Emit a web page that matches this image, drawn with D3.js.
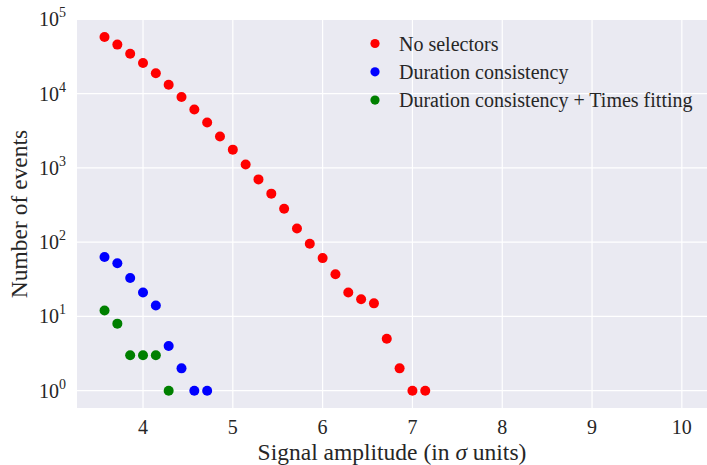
<!DOCTYPE html>
<html>
<head>
<meta charset="utf-8">
<script src="https://cdn.jsdelivr.net/npm/d3@7"></script>
<style>
  body { margin: 0; background: #fff; }
  svg text { font-family: "Palatino Linotype", Palatino, "Liberation Serif", serif; fill: #262626; }
</style>
</head>
<body>
<div id="chart"></div>
<script>
// bin centres are k/7 sigma
const xRed = [25, 26, 27, 28, 29, 30, 31, 32, 33, 34, 35, 36, 37, 38, 39, 40, 41, 42, 43, 44, 45, 46, 47, 48, 49, 50].map(k => k / 7);
const noSelectors = [58000, 45700, 34500, 25900, 18800, 13200, 9000, 6100, 4080, 2650, 1760, 1110, 700, 450, 282, 153, 95, 61, 37, 21, 17, 15, 5, 2, 1, 1];

const xBlue = [25, 26, 27, 28, 29, 30, 31, 32, 33].map(k => k / 7);
const durationConsistency = [63, 52, 33, 21, 14, 4, 2, 1, 1];

const xGreen = [25, 26, 27, 28, 29, 30].map(k => k / 7);
const durationTimes = [12, 8, 3, 3, 3, 1];

const seriesNames = ["No selectors", "Duration consistency", "Duration consistency + Times fitting"];
const seriesColors = ["#ff0000", "#0000ff", "#008000"];

const xTicks = [4, 5, 6, 7, 8, 9, 10];
const yTicks = [1, 10, 100, 1000, 10000, 100000];

const width = 707, height = 465;
const margin = { top: 20, right: 0, bottom: 57, left: 77 };

const svg = d3.select("#chart").append("svg")
  .attr("width", width)
  .attr("height", height);

const x = d3.scaleLinear()
  .domain([3.265, 10.28])
  .range([margin.left, width - margin.right]);

const y = d3.scaleLog()
  .domain([0.585, 98000])
  .range([height - margin.bottom, margin.top]);

// background
svg.append("rect")
  .attr("x", margin.left)
  .attr("y", margin.top)
  .attr("width", width - margin.left - margin.right)
  .attr("height", height - margin.top - margin.bottom)
  .attr("fill", "#eaeaf2");

// grid
svg.append("g").selectAll("line")
  .data(xTicks)
  .join("line")
  .attr("x1", d => x(d)).attr("x2", d => x(d))
  .attr("y1", margin.top).attr("y2", height - margin.bottom)
  .attr("stroke", "#fff").attr("stroke-width", 1.2);

svg.append("g").selectAll("line")
  .data(yTicks)
  .join("line")
  .attr("x1", margin.left).attr("x2", width - margin.right)
  .attr("y1", d => y(d)).attr("y2", d => y(d))
  .attr("stroke", "#fff").attr("stroke-width", 1.2);

// x tick labels
svg.append("g").selectAll("text")
  .data(xTicks)
  .join("text")
  .attr("x", d => x(d))
  .attr("y", 434)
  .attr("text-anchor", "middle")
  .attr("font-size", 20)
  .text(d => d);

// y tick labels: 10^n
const yl = svg.append("g").selectAll("text")
  .data(yTicks)
  .join("text")
  .attr("x", 66)
  .attr("y", d => y(d) + 7)
  .attr("text-anchor", "end")
  .attr("font-size", 20);
yl.append("tspan").text("10");
yl.append("tspan")
  .attr("dy", -9)
  .attr("font-size", 14)
  .text(d => Math.round(Math.log10(d)));

// axis titles
const xt = svg.append("text")
  .attr("x", (margin.left + width - margin.right) / 2)
  .attr("y", 460)
  .attr("text-anchor", "middle")
  .attr("font-size", 23.5);
xt.append("tspan").text("Signal amplitude (in ");
xt.append("tspan").attr("font-style", "italic").text("σ");
xt.append("tspan").text(" units)");

svg.append("text")
  .attr("transform", `translate(27,${(margin.top + height - margin.bottom) / 2}) rotate(-90)`)
  .attr("text-anchor", "middle")
  .attr("font-size", 23.5)
  .text("Number of events");

// points
const series = [
  { xs: xRed, ys: noSelectors },
  { xs: xBlue, ys: durationConsistency },
  { xs: xGreen, ys: durationTimes }
];
series.forEach((s, i) => {
  svg.append("g").selectAll("circle")
    .data(s.ys)
    .join("circle")
    .attr("cx", (d, j) => x(s.xs[j]))
    .attr("cy", d => y(d))
    .attr("r", 5)
    .attr("fill", seriesColors[i]);
});

// legend
const lg = svg.append("g").selectAll("g")
  .data(seriesNames)
  .join("g")
  .attr("transform", (d, i) => `translate(375,${43.5 + i * 28.3})`);
lg.append("circle")
  .attr("r", 4.6)
  .attr("fill", (d, i) => seriesColors[i]);
lg.append("text")
  .attr("x", 24)
  .attr("y", 7)
  .attr("font-size", 20)
  .text(d => d);
</script>
</body>
</html>
